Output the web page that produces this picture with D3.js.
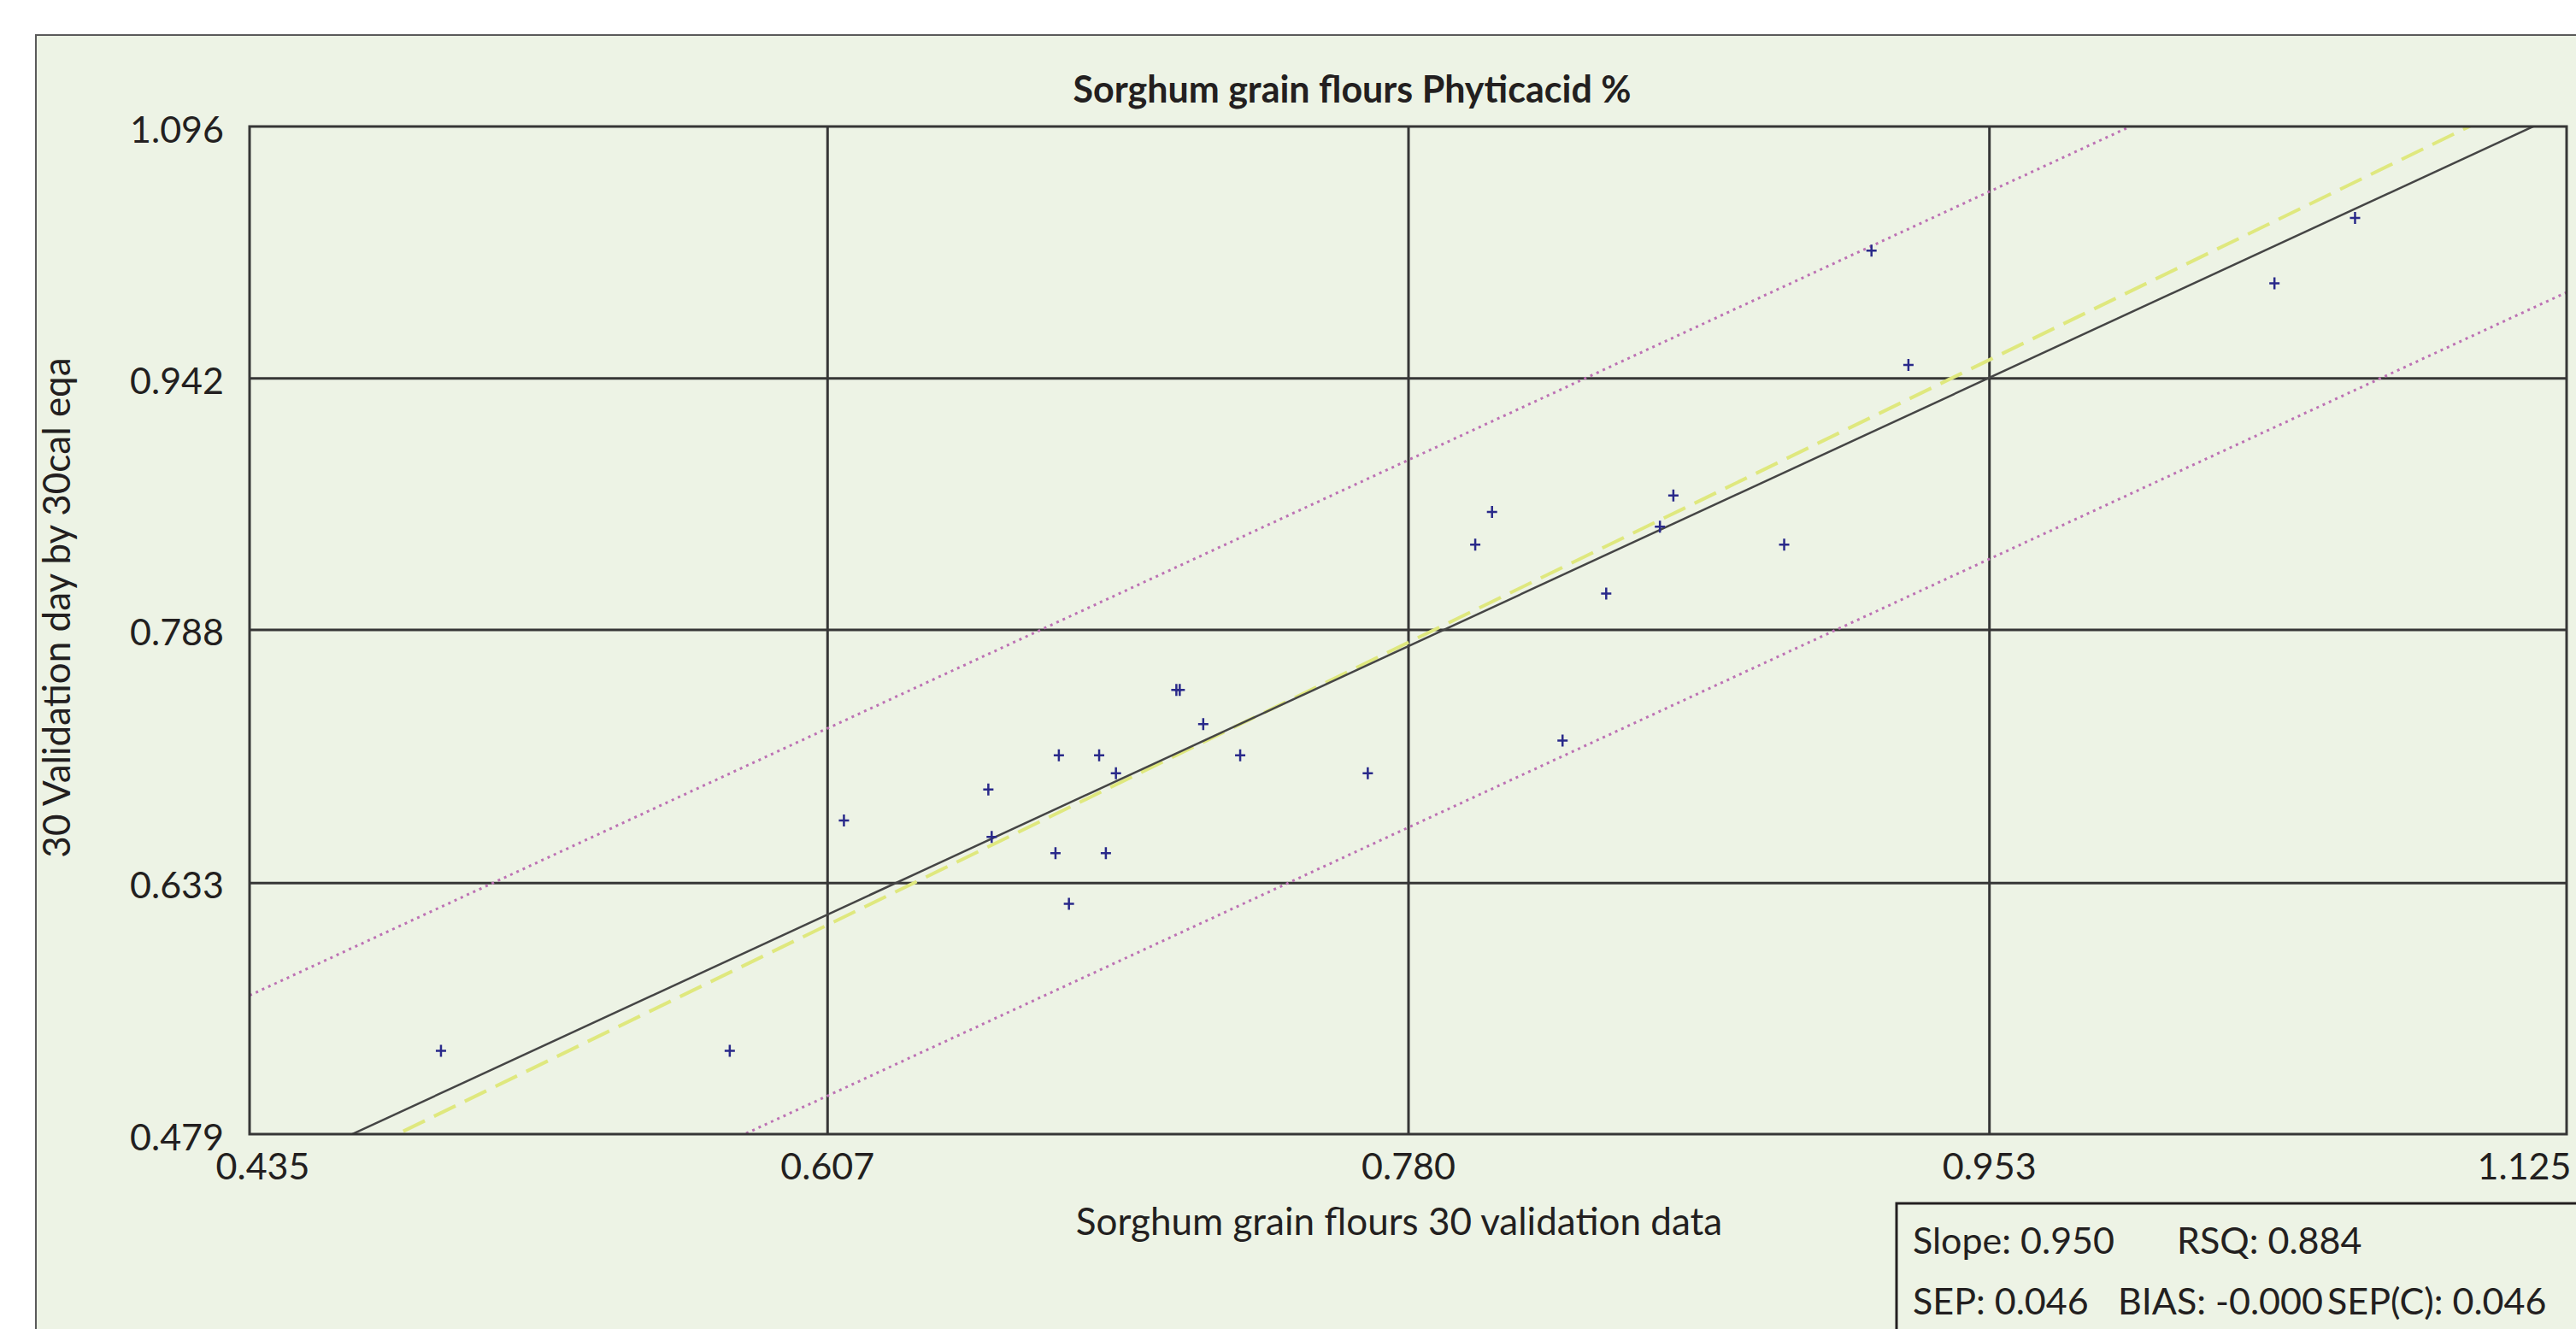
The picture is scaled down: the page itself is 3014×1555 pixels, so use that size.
<!DOCTYPE html>
<html>
<head>
<meta charset="utf-8">
<script src="https://cdn.jsdelivr.net/npm/d3@7"></script>
<style>
  body { margin: 0; background: #fff; }
  text { font-family: Lato, "Open Sans", sans-serif; fill: #231f20; }
</style>
</head>
<body>
<svg id="chart" width="3014" height="1555"></svg>
<script>
// tick labels as printed on the axes
const xTicks = [0.435, 0.607, 0.780, 0.953, 1.125];
const yTicks = [0.479, 0.633, 0.788, 0.942, 1.096];

// validation samples: lab value (x) vs predicted value (y)
const labVals  = [0.492, 0.578, 0.612, 0.655, 0.656, 0.676, 0.675, 0.679, 0.688, 0.690, 0.693, 0.711, 0.712, 0.719,
                  0.730, 0.768, 0.800, 0.805, 0.826, 0.839, 0.855, 0.859, 0.892, 0.918, 0.929, 1.038, 1.062];
const predVals = [0.530, 0.530, 0.671, 0.690, 0.661, 0.711, 0.651, 0.620, 0.711, 0.651, 0.700, 0.751, 0.751, 0.730,
                  0.711, 0.700, 0.840, 0.860, 0.720, 0.810, 0.851, 0.870, 0.840, 1.020, 0.950, 1.000, 1.040];

// fitted line + limits
const slope = 0.950;
const intercept = 0.0367;
const limitUp = 0.114;
const limitDown = -0.111;

const statsRow1 = ["Slope: 0.950", "RSQ: 0.884"];
const statsRow2 = ["SEP: 0.046", "BIAS: -0.000", "SEP(C): 0.046"];

const svg = d3.select("#chart");
const plot = {left: 292, right: 3003, top: 148, bottom: 1327};

// outer panel
svg.append("rect")
  .attr("x", 42).attr("y", 41)
  .attr("width", 3040).attr("height", 1600)
  .attr("fill", "#edf3e5")
  .attr("stroke", "#5a5a5a").attr("stroke-width", 2);

const x = d3.scaleLinear()
  .domain([xTicks[0], xTicks[xTicks.length - 1]])
  .range([plot.left, plot.right]);

const y = d3.scaleLinear()
  .domain([yTicks[0], yTicks[yTicks.length - 1]])
  .range([plot.bottom, plot.top]);

svg.append("clipPath").attr("id", "clip")
  .append("rect")
  .attr("x", plot.left).attr("y", plot.top)
  .attr("width", plot.right - plot.left).attr("height", plot.bottom - plot.top);

// grid lines
const gx = svg.append("g")
  .attr("transform", `translate(0,${plot.bottom})`)
  .call(d3.axisBottom(x).tickValues(xTicks.slice(1, -1)).tickSize(-(plot.bottom - plot.top)).tickFormat(""));
const gy = svg.append("g")
  .attr("transform", `translate(${plot.left},0)`)
  .call(d3.axisLeft(y).tickValues(yTicks.slice(1, -1)).tickSize(-(plot.right - plot.left)).tickFormat(""));
[gx, gy].forEach(g => {
  g.select(".domain").remove();
  g.selectAll("line").attr("stroke", "#363636").attr("stroke-width", 3);
});

// lines
const lines = svg.append("g").attr("clip-path", "url(#clip)");
const xs = x.domain();
const line = d3.line().x(d => x(d[0])).y(d => y(d[1]));
const fit = v => slope * v + intercept;

lines.append("path")
  .attr("d", line(xs.map(v => [v, fit(v) + limitUp])))
  .attr("fill", "none").attr("stroke", "#bd72b4").attr("stroke-width", 3)
  .attr("stroke-dasharray", "3,5");
lines.append("path")
  .attr("d", line(xs.map(v => [v, fit(v) + limitDown])))
  .attr("fill", "none").attr("stroke", "#bd72b4").attr("stroke-width", 3)
  .attr("stroke-dasharray", "3,5");
lines.append("path")
  .attr("d", line(xs.map(v => [v, v])))
  .attr("fill", "none").attr("stroke", "#dfe87e").attr("stroke-width", 4)
  .attr("stroke-dasharray", "28,12");
lines.append("path")
  .attr("d", line(xs.map(v => [v, fit(v)])))
  .attr("fill", "none").attr("stroke", "#454545").attr("stroke-width", 2.5);

// sample markers
const pts = labVals.map((v, i) => ({x: v, y: predVals[i]}));
svg.append("g").selectAll("path")
  .data(pts)
  .join("path")
  .attr("transform", d => `translate(${x(d.x)},${y(d.y)})`)
  .attr("d", "M-6,0H6M0,-7V7")
  .attr("stroke", "#29298a").attr("stroke-width", 2.5).attr("fill", "none");

// plot frame
svg.append("rect")
  .attr("x", plot.left).attr("y", plot.top)
  .attr("width", plot.right - plot.left).attr("height", plot.bottom - plot.top)
  .attr("fill", "none").attr("stroke", "#363636").attr("stroke-width", 3);

// axis labels
const ax = svg.append("g")
  .attr("transform", `translate(0,${plot.bottom})`)
  .call(d3.axisBottom(x).tickValues(xTicks).tickSize(0).tickPadding(22).tickFormat(d3.format(".3f")));
const ay = svg.append("g")
  .attr("transform", `translate(${plot.left},0)`)
  .call(d3.axisLeft(y).tickValues(yTicks).tickSize(0).tickPadding(30).tickFormat(d3.format(".3f")));
[ax, ay].forEach(g => {
  g.select(".domain").remove();
  g.selectAll("text").attr("font-family", "Lato").attr("font-size", 43).attr("fill", "#231f20");
});
ay.selectAll("text").attr("dy", "0.42em");
const xl = ax.selectAll("text").nodes();
d3.select(xl[0]).attr("x", 15);
d3.select(xl[xl.length - 1]).attr("x", -50);

// titles
svg.append("text")
  .attr("x", 1582).attr("y", 120)
  .attr("text-anchor", "middle")
  .attr("font-size", 43).attr("font-weight", "bold")
  .text("Sorghum grain flours Phyticacid %");

svg.append("text")
  .attr("x", 1637).attr("y", 1445)
  .attr("text-anchor", "middle")
  .attr("font-size", 44)
  .text("Sorghum grain flours 30 validation data");

svg.append("text")
  .attr("transform", "translate(82,711) rotate(-90)")
  .attr("text-anchor", "middle")
  .attr("font-size", 44)
  .text("30 Validation day by 30cal eqa");

// stats box
svg.append("rect")
  .attr("x", 2219).attr("y", 1408)
  .attr("width", 900).attr("height", 300)
  .attr("fill", "none").attr("stroke", "#231f20").attr("stroke-width", 3);

const row1x = [2238, 2547];
const row2x = [2238, 2478, 2723];
statsRow1.forEach((t, i) => {
  svg.append("text").attr("x", row1x[i]).attr("y", 1467).attr("font-size", 43).text(t);
});
statsRow2.forEach((t, i) => {
  svg.append("text").attr("x", row2x[i]).attr("y", 1538).attr("font-size", 43).text(t);
});
</script>
</body>
</html>
